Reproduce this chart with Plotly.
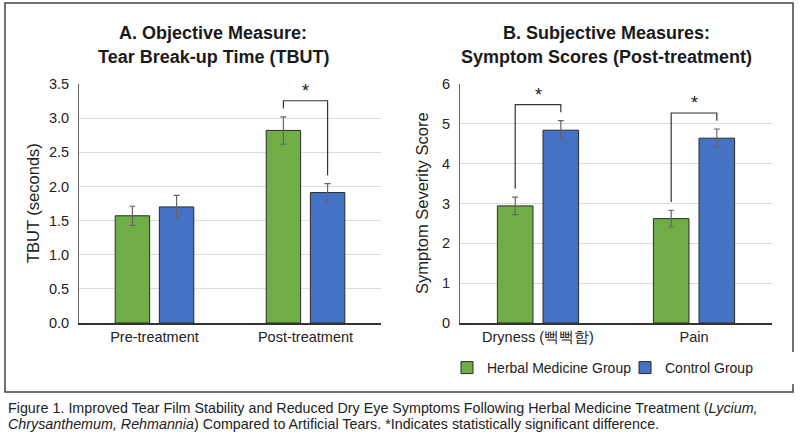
import plotly.graph_objects as go

# Panel A: tear break-up time
tbut_categories = ["Pre-treatment", "Post-treatment"]
tbut_herbal = [1.57, 2.82]
tbut_herbal_err = [0.14, 0.20]
tbut_control = [1.70, 1.91]
tbut_control_err = [0.17, 0.13]
tbut_significant = [False, True]

# Panel B: symptom scores
symptom_categories = ["Dryness (뻑뻑함)", "Pain"]
symptom_herbal = [2.94, 2.62]
symptom_herbal_err = [0.22, 0.21]
symptom_control = [4.84, 4.64]
symptom_control_err = [0.24, 0.23]
symptom_significant = [True, True]

GREEN = "#70AD47"
BLUE = "#4472C4"
FONT = "Liberation Sans, Arial, sans-serif"
BARGAP = 0.415
GROUPGAP = 0.22

W, H = 800, 436


def px(x):
    return x / W


def py(y):
    return 1 - y / H


fig = go.Figure()


def add_bars(cats, herbal, herbal_err, control, control_err, xa, ya, show):
    err_style = dict(type="data", thickness=1.2, width=3, color="#666666")
    fig.add_trace(go.Bar(
        x=cats, y=herbal, name="Herbal Medicine Group",
        marker=dict(color=GREEN, line=dict(color="#2a2a2a", width=1)),
        error_y=dict(array=herbal_err, **err_style),
        xaxis=xa, yaxis=ya, showlegend=show, legendgroup="h",
    ))
    fig.add_trace(go.Bar(
        x=cats, y=control, name="Control Group",
        marker=dict(color=BLUE, line=dict(color="#2a2a2a", width=1)),
        error_y=dict(array=control_err, **err_style),
        xaxis=xa, yaxis=ya, showlegend=show, legendgroup="c",
    ))


def add_brackets(sig, herbal, herbal_err, control, control_err, yrange, xref, yref):
    half = (1 - BARGAP) / 4
    gap = 0.035 * yrange
    for i, s in enumerate(sig):
        if not s:
            continue
        left = herbal[i] + herbal_err[i] + gap
        right = control[i] + control_err[i] + gap
        top = max(left, right) + 0.032 * yrange
        x0, x1 = i - half, i + half
        fig.add_shape(
            type="path",
            path=f"M {x0} {left} L {x0} {top} L {x1} {top} L {x1} {right}",
            xref=xref, yref=yref, line=dict(color="#333333", width=1.2),
        )
        fig.add_annotation(
            x=i, y=top, xref=xref, yref=yref, text="*", showarrow=False,
            yanchor="bottom", yshift=-2, font=dict(size=18, color="#222", family=FONT),
        )


add_bars(tbut_categories, tbut_herbal, tbut_herbal_err, tbut_control, tbut_control_err, "x", "y", False)
add_bars(symptom_categories, symptom_herbal, symptom_herbal_err, symptom_control, symptom_control_err, "x2", "y2", True)

add_brackets(tbut_significant, tbut_herbal, tbut_herbal_err, tbut_control, tbut_control_err, 3.5, "x", "y")
add_brackets(symptom_significant, symptom_herbal, symptom_herbal_err, symptom_control, symptom_control_err, 6, "x2", "y2")

ydom = [py(323), py(84)]
tick_font = dict(size=14.5, color="#222", family=FONT)
xcommon = dict(type="category", showline=True, linecolor="#333", linewidth=1.5,
               ticks="", showgrid=False, tickfont=tick_font, range=[-0.5, 1.5], fixedrange=True)
ycommon = dict(showline=True, linecolor="#666", linewidth=1, gridcolor="#dcdcdc",
               gridwidth=1, zeroline=False, tickfont=tick_font, ticks="", ticklabelstandoff=6)

fig.update_layout(
    width=W, height=H,
    margin=dict(l=0, r=0, t=0, b=0, autoexpand=False),
    paper_bgcolor="white", plot_bgcolor="white",
    barmode="group", bargap=BARGAP, bargroupgap=GROUPGAP,
    font=dict(family=FONT, color="#222"),
    xaxis=dict(domain=[px(79), px(381)], anchor="y", **xcommon),
    yaxis=dict(domain=ydom, anchor="x", range=[0, 3.5], dtick=0.5, tickformat=".1f", **ycommon),
    xaxis2=dict(domain=[px(460), px(772)], anchor="y2", **xcommon),
    yaxis2=dict(domain=ydom, anchor="x2", range=[0, 6], dtick=1, **ycommon),
    legend=dict(orientation="h", x=px(447), y=py(368), xanchor="left", yanchor="middle",
                font=dict(size=14, color="#222", family=FONT), itemwidth=30,
                traceorder="normal", entrywidth=133),
    showlegend=True,
)

# panel titles
for x, lines in [(213, ["A. Objective Measure:", "Tear Break-up Time (TBUT)"]),
                 (606, ["B. Subjective Measures:", "Symptom Scores (Post-treatment)"])]:
    for j, t in enumerate(lines):
        fig.add_annotation(
            x=px(x), y=py(33 + 24 * j), xref="paper", yref="paper", showarrow=False,
            text=f"<b>{t}</b>", xanchor="center", yanchor="middle",
            font=dict(size=18, color="#1a1a1a", family=FONT),
        )

# axis titles
for x, t in [(33, "TBUT (seconds)"), (422, "Symptom Severity Score")]:
    fig.add_annotation(
        x=px(x), y=py(203), xref="paper", yref="paper", showarrow=False,
        text=t, textangle=-90, xanchor="center", yanchor="middle",
        font=dict(size=16.5, color="#222", family=FONT),
    )

# outer frame
fig.add_shape(type="rect", xref="paper", yref="paper",
              x0=px(5), x1=px(793), y0=py(392), y1=py(3),
              line=dict(color="#444", width=1.5))

# caption
caption = [
    "Figure 1. Improved Tear Film Stability and Reduced Dry Eye Symptoms Following Herbal Medicine Treatment (<i>Lycium,</i>",
    "<i>Chrysanthemum, Rehmannia</i>) Compared to Artificial Tears. *Indicates statistically significant difference.",
]
for j, t in enumerate(caption):
    fig.add_annotation(
        x=px(6), y=py(408 + 16 * j), xref="paper", yref="paper", showarrow=False,
        text=t, xanchor="left", yanchor="middle",
        font=dict(size=14.3, color="#222", family=FONT),
    )

# page has a default 8px body margin; drop it so the figure fills the window
fig.write_html("out.html", config={"displayModeBar": False},
               post_script="document.body.style.margin='0px';")
